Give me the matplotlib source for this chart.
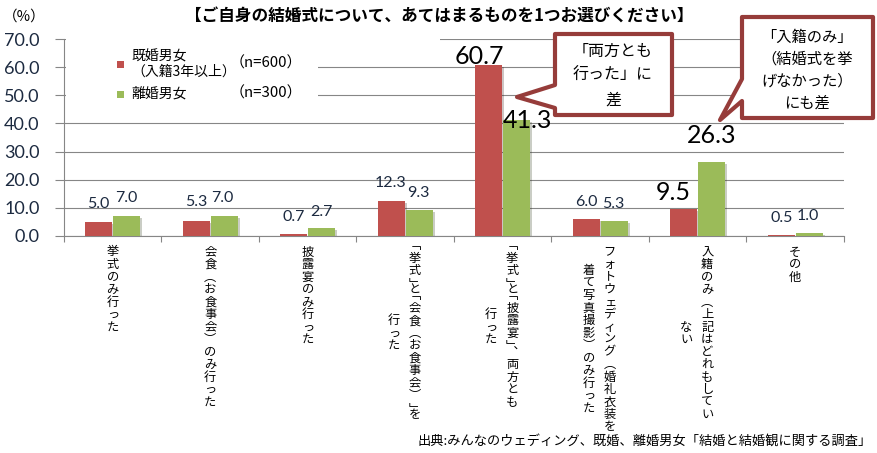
import matplotlib
matplotlib.use("Agg")
import matplotlib.pyplot as plt
import matplotlib.patheffects as pe
from matplotlib.patches import Polygon, Rectangle
import numpy as np

# data
categories = [
    ["挙式のみ行った"],
    ["会食（お食事会）のみ行った"],
    ["披露宴のみ行った"],
    ["「挙式」と「会食（お食事会）」を", "行った"],
    ["「挙式」と「披露宴」、両方とも", "行った"],
    ["フォトウェディング（婚礼衣装を", "着て写真撮影）のみ行った"],
    ["入籍のみ（上記はどれもしてい", "ない"],
    ["その他"],
]
married = [5.0, 5.3, 0.7, 12.3, 60.7, 6.0, 9.5, 0.5]
divorced = [7.0, 7.0, 2.7, 9.3, 41.3, 5.3, 26.3, 1.0]
series_names = ["既婚男女\n（入籍3年以上）", "離婚男女"]
series_n = ["（n=600）", "（n=300）"]
yticks = np.arange(0, 71, 10)
title = "【ご自身の結婚式について、あてはまるものを1つお選びください】"
source = "出典:みんなのウェディング、既婚、離婚男女「結婚と結婚観に関する調査」"
callout1 = ["「両方とも", "行った」に", "差"]
callout2 = ["「入籍のみ」", "（結婚式を挙", "げなかった）", "にも差"]
big_married = [False, False, False, False, True, False, True, False]
big_divorced = [False, False, False, False, True, False, True, False]

# label layout (pixels: dx from bar centre, dy of label centre above bar top)
red_dx = [0, 0, 0, -1, -9, 0, -10, 0]
red_dy = [18, 19, 17, 18, 9, 17, 17, 17]
green_dx = [0, -2, 0, -1, 11, -1, 0, -1]
green_dy = [18, 18, 16, 17, -1, 17, 26, 17]

W, H = 878, 453
RED = "#C0504D"
GREEN = "#9BBB59"
GRID = "#868686"
NAVY = "#1c2a40"
CALL = "#963c3a"
JP = ["Noto Sans CJK JP", "DejaVu Sans"]
NUM = ["Lato", "DejaVu Sans"]


def fx(x):
    return x / W


def fy(y):
    return 1 - y / H


fig = plt.figure(figsize=(W / 100, H / 100), dpi=100)
ax = fig.add_axes([fx(64), fy(236), 780 / W, 197 / H])

x = np.arange(len(married))
off = 0.1436
bw = 0.277
shadow = [pe.SimplePatchShadow(offset=(1.5, -1.5), alpha=0.25), pe.Normal()]
b1 = ax.bar(x - off, married, width=bw, color=RED, zorder=3)
b2 = ax.bar(x + off, divorced, width=bw, color=GREEN, zorder=3)
for p in list(b1) + list(b2):
    p.set_path_effects(shadow)

ax.set_xlim(-0.5, len(married) - 0.5)
ax.set_ylim(0, 70)
ax.set_yticks(yticks)
ax.set_yticklabels([f"{v:.1f}" for v in yticks], fontfamily=NUM, fontsize=13, color=NAVY)
ax.set_xticks(np.arange(-0.5, len(married), 1))
ax.set_xticklabels([])
ax.tick_params(axis="y", length=6.5, width=0.8, color=GRID, pad=11)
ax.tick_params(axis="x", length=4, width=0.8, color=GRID)
ax.grid(axis="y", color=GRID, lw=0.8, zorder=0)
ax.set_axisbelow(True)
for s in ["top", "right"]:
    ax.spines[s].set_visible(False)
for s in ["left", "bottom"]:
    ax.spines[s].set_color(GRID)
    ax.spines[s].set_linewidth(0.8)

# data labels
px_per_unit = 197 / 70.0
px_per_cat = 780 / len(married)


def bar_label(xc, val, dx, dy, big):
    xd = xc + dx / px_per_cat
    yd = val + dy / px_per_unit
    if big:
        ax.text(xd, yd, f"{val:.1f}", ha="center", va="center", fontfamily=NUM,
                fontsize=18, color="black", zorder=5)
    else:
        ax.text(xd, yd, f"{val:.1f}", ha="center", va="center", fontfamily=NUM,
                fontsize=11.5, color=NAVY, zorder=5)


for i in range(len(married)):
    bar_label(x[i] - off, married[i], red_dx[i], red_dy[i], big_married[i])
    bar_label(x[i] + off, divorced[i], green_dx[i], green_dy[i], big_divorced[i])

# vertical category labels (stacked characters, columns right to left)
vert = str.maketrans({"「": "\ufe41", "」": "\ufe42", "（": "\ufe35", "）": "\ufe36", "、": "\ufe11"})
pitch = 12.5
opening = {"\ufe41"}
closing = {"\ufe42"}


def col_len(txt):
    return sum(pitch / 2 if ch in opening or ch in closing else pitch for ch in txt)


def draw_column(xcol, top, txt):
    cur = top
    for ch in txt:
        if ch in opening:
            base = cur - pitch / 2 + 10.5
            cur += pitch / 2
        elif ch in closing:
            base = cur + 10.5
            cur += pitch / 2
        else:
            base = cur + 10.5
            cur += pitch
        fig.text(fx(xcol), fy(base), ch, ha="center", va="baseline",
                 fontfamily=JP, fontsize=8.8, color="black")


for i, cols in enumerate(categories):
    xc = 64 + px_per_cat * (i + 0.5)
    cols_v = [c.translate(vert) for c in cols]
    if len(cols_v) == 1:
        draw_column(xc, 245, cols_v[0])
    else:
        lens = [col_len(c) for c in cols_v]
        lmax = max(lens)
        for xcol, txt, ln in zip([xc + 9.5, xc - 11.5], cols_v, lens):
            draw_column(xcol, 245 + (lmax - ln) / 2, txt)

# title etc.
fig.text(fx(439), fy(17), title, ha="center", va="center", fontfamily=JP,
         fontsize=12, fontweight="bold")
fig.text(fx(24), fy(17), "（%）", ha="center", va="center", fontfamily=JP, fontsize=10.5)
fig.text(fx(872), fy(441), source, ha="right", va="center", fontfamily=JP, fontsize=9.5)

# legend panel
fig.add_artist(Rectangle((fx(66), fy(42)), fx(440) - fx(66), fy(34) - fy(42),
                         transform=fig.transFigure, facecolor="white", edgecolor="none"))
fig.add_artist(Rectangle((fx(66), fy(112)), fx(318) - fx(66), fy(42) - fy(112),
                         transform=fig.transFigure, facecolor="white", edgecolor="none"))
for (ys, col, name, n) in [(64, RED, series_names[0], series_n[0]),
                           (94, GREEN, series_names[1], series_n[1])]:
    fig.add_artist(Rectangle((fx(117.5), fy(ys + 3.5)), 7 / W, 7 / H,
                             transform=fig.transFigure, facecolor=col, edgecolor="none"))
    fig.text(fx(131), fy(ys), name, ha="left", va="center", fontfamily=JP,
             fontsize=10, linespacing=1.1)
    fig.text(fx(266), fy(ys - 1), n, ha="center", va="center", fontfamily=JP, fontsize=10.8)

# callouts
box1 = [(555, 34), (672, 34), (672, 115), (555, 115), (555, 108), (517, 97), (555, 85)]
box2 = [(742, 17), (873, 17), (873, 118), (742, 118), (742, 101), (720, 120), (742, 79)]
for pts in [box1, box2]:
    fig.add_artist(Polygon([(fx(a), fy(b)) for a, b in pts], closed=True,
                           transform=fig.transFigure, facecolor="white",
                           edgecolor=CALL, lw=3, joinstyle="round"))
for k, line in enumerate(callout1):
    fig.text(fx(613), fy(51 + k * 24.5), line, ha="center", va="center",
             fontfamily=JP, fontsize=11.5)
for k, line in enumerate(callout2):
    fig.text(fx(807), fy(37 + k * 22), line, ha="center", va="center",
             fontfamily=JP, fontsize=11)

fig.savefig("out.png", dpi=100)
